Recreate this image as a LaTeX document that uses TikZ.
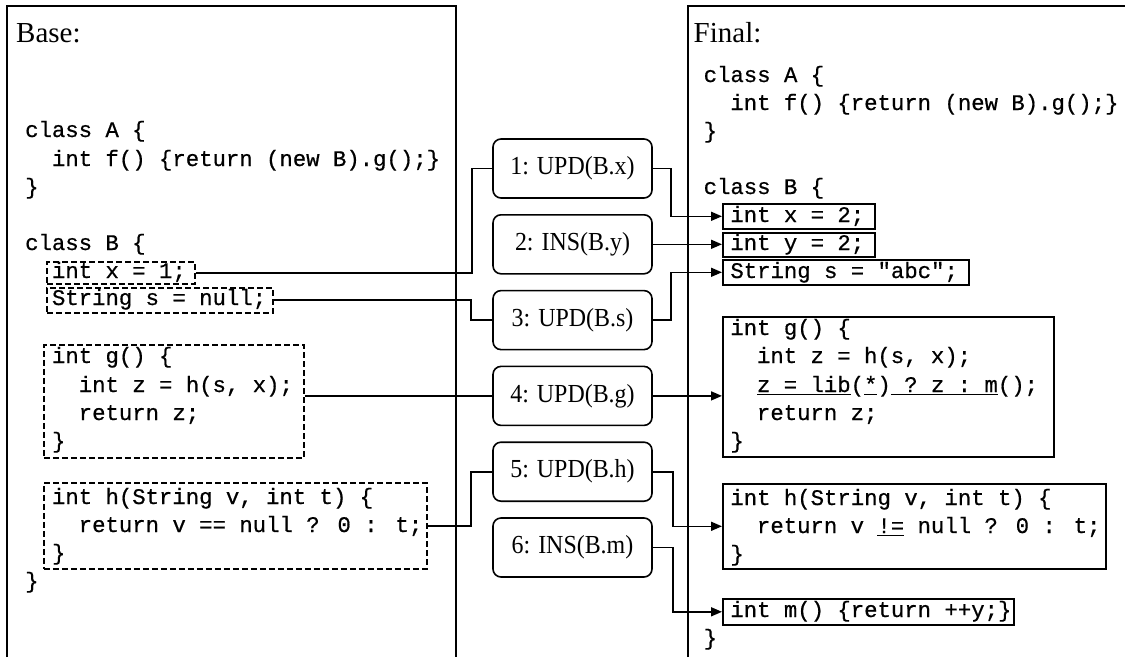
\documentclass[tikz,border=0pt]{standalone}
\usepackage{fontspec}
\usepackage{graphicx}
\setmainfont{Liberation Serif}
\newfontfamily\codefam[FakeBold=0.6]{Liberation Mono}
\usetikzlibrary{arrows.meta}
\newcommand\codefont{\codefam\fontsize{22.3}{28}\selectfont}
\newcommand\titlefont{\rmfamily\fontsize{29}{34}\selectfont}
\newcommand\opfont{\rmfamily\fontsize{26}{30}\selectfont}
\newsavebox\ulbox
\newcommand\ulseg[1]{\sbox\ulbox{#1}\rlap{\rule[-3pt]{\wd\ulbox}{1.3pt}}\usebox\ulbox}
\newcommand\oplabel[1]{\scalebox{0.92}[1]{#1}}
\tikzset{
  code/.style={anchor=base west, inner sep=0pt, font=\codefont},
  title/.style={anchor=base west, inner sep=0pt, font=\titlefont},
  panel/.style={line width=1.6pt},
  dbox/.style={draw, dash pattern=on 6pt off 3pt, line width=1.5pt, inner sep=0pt, anchor=north west},
  sbox/.style={draw, line width=1.6pt, inner sep=0pt, anchor=north west},
  op/.style={draw, rounded corners=8pt, line width=1.6pt, minimum width=159pt,
             minimum height=59pt, inner sep=0pt, font=\opfont},
  link/.style={line width=1.6pt},
  arr/.style={link, -{Triangle[length=11pt,width=9pt]}}
}
\begin{document}
\begin{tikzpicture}[x=1pt,y=-1pt]
\useasboundingbox (0,0) rectangle (1125,657);

% panels (open at the bottom and on the right)
\draw[panel] (7,657) -- (7,6) -- (456,6) -- (456,657);
\draw[panel] (688,657) -- (688,6) -- (1125,6);

\node[title] (tbase) at (16,42) {Base:};
\node[title] (tfinal) at (693.5,42) {Final:};

% ---------- base version ----------
\node[dbox, minimum width=148pt, minimum height=22pt] (bx) at (46,261) {};
\node[dbox, minimum width=226pt, minimum height=25pt] (bs) at (46,287) {};
\node[dbox, minimum width=260pt, minimum height=113pt] (bg) at (43,344) {};
\node[dbox, minimum width=383pt, minimum height=86pt] (bh) at (43,482) {};

\node[code] (l1) at (25,137) {class A \{};
\node[code] (l2) at (51.8,166) {int f() \{return (new B).g();\}};
\node[code] (l3) at (25,194) {\}};
\node[code] (l4) at (25,250) {class B \{};
\node[code] (l5) at (51.8,278) {int x = 1;};
\node[code] (l6) at (51.8,305) {String s = null;};
\node[code] (l7) at (51.8,363) {int g() \{};
\node[code] (l8) at (78.6,392) {int z = h(s, x);};
\node[code] (l9) at (78.6,420) {return z;};
\node[code] (l10) at (51.8,448) {\}};
\node[code] (l11) at (51.8,504) {int h(String v, int t) \{};
\node[code] (l12) at (78.6,532) {return v == null ? 0 : t;};
\node[code] (l13) at (51.8,560) {\}};
\node[code] (l14) at (25,588) {\}};

% ---------- edit operations ----------
\node[op] (u1) at (572.5,168.5) {\oplabel{1: UPD(B.x)}};
\node[op] (u2) at (572.5,244.3) {\oplabel{2: INS(B.y)}};
\node[op] (u3) at (572.5,320.1) {\oplabel{3: UPD(B.s)}};
\node[op] (u4) at (572.5,395.9) {\oplabel{4: UPD(B.g)}};
\node[op] (u5) at (572.5,471.7) {\oplabel{5: UPD(B.h)}};
\node[op] (u6) at (572.5,547.5) {\oplabel{6: INS(B.m)}};

% ---------- final version ----------
\node[sbox, minimum width=152pt, minimum height=25pt] (fx) at (722,203) {};
\node[sbox, minimum width=152pt, minimum height=24pt] (fy) at (722,232) {};
\node[sbox, minimum width=246pt, minimum height=25pt] (fs) at (722,259) {};
\node[sbox, minimum width=331pt, minimum height=140pt] (fg) at (722,316) {};
\node[sbox, minimum width=383pt, minimum height=85pt] (fh) at (722,483) {};
\node[sbox, minimum width=291pt, minimum height=26pt] (fm) at (722,598) {};

\node[code] (r1) at (703.5,82) {class A \{};
\node[code] (r2) at (730.2,110) {int f() \{return (new B).g();\}};
\node[code] (r3) at (703.5,138) {\}};
\node[code] (r4) at (703.5,194) {class B \{};
\node[code] (r5) at (730.2,222) {int x = 2;};
\node[code] (r6) at (730.2,250) {int y = 2;};
\node[code] (r7) at (730.2,278) {String s = "abc";};
\node[code] (r8) at (730.2,335) {int g() \{};
\node[code] (r9) at (756.8,363) {int z = h(s, x);};
\node[code] (r10) at (756.8,392) {\ulseg{z\ =\ lib}(\ulseg{*})\ulseg{\ ?\ z\ :\ m}();};
\node[code] (r11) at (756.8,420) {return z;};
\node[code] (r12) at (730.2,448) {\}};
\node[code] (r13) at (730.2,505) {int h(String v, int t) \{};
\node[code] (r14) at (756.8,533) {return v \ulseg{!=} null ? 0 : t;};
\node[code] (r15) at (730.2,561) {\}};
\node[code] (r16) at (730.2,617) {int m() \{return ++y;\}};
\node[code] (r17) at (703.5,645) {\}};

% ---------- connectors ----------
\draw[link] (bx.east) -| ([xshift=-20pt]u1.west) -- (u1.west);
\draw[link] (bs.east) -| ([xshift=-21pt]u3.west) -- (u3.west);
\draw[link] (u4.west -| bg.east) -- (u4.west);
\draw[link] (bh.east) -| ([xshift=-21pt]u5.west) -- (u5.west);

\draw[arr] (u1.east) -| ([xshift=-51pt]fx.west) -- (fx.west);
\draw[arr] (u2.east) -- (u2.east -| fy.west);
\draw[arr] (u3.east) -| ([xshift=-51pt]fs.west) -- (fs.west);
\draw[arr] (u4.east) -- (u4.east -| fg.west);
\draw[arr] (u5.east) -| ([xshift=-49pt]fh.west) -- (fh.west);
\draw[arr] (u6.east) -| ([xshift=-49pt]fm.west) -- (fm.west);
\end{tikzpicture}
\end{document}
